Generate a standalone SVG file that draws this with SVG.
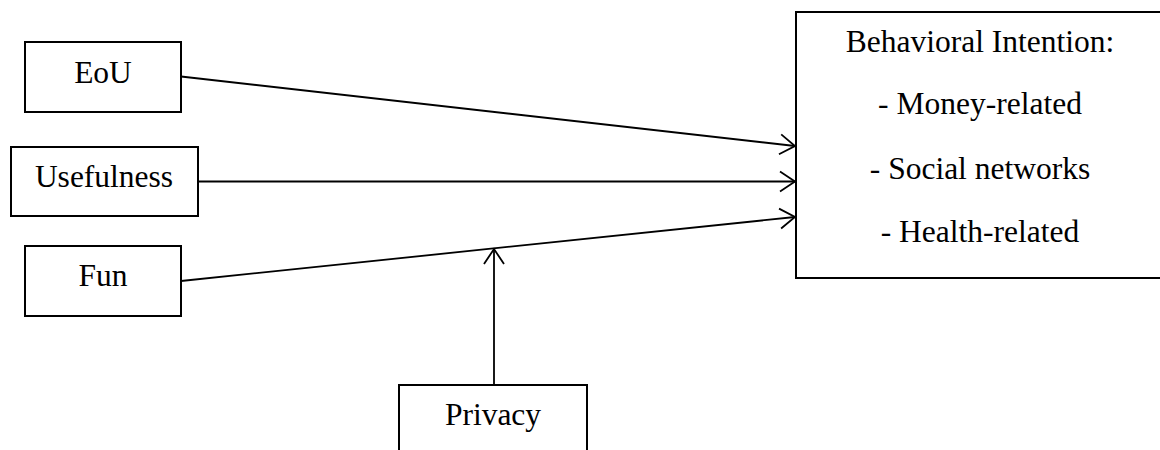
<svg xmlns="http://www.w3.org/2000/svg" width="1160" height="450" viewBox="0 0 1160 450">
<style>
.box{fill:#fff;stroke:#000;stroke-width:2}
.t{font-family:"Liberation Serif","Times New Roman",serif;font-size:31.5px;fill:#000;text-anchor:middle}
.c{stroke:#000;stroke-width:1.8;fill:none}
</style>
<defs>
<marker id="ah" markerUnits="userSpaceOnUse" viewBox="-17 -12 20 24" markerWidth="20" markerHeight="24" refX="0" refY="0" orient="auto">
<path d="M-15,-10 L0,0 L-15,10" fill="none" stroke="#000" stroke-width="1.8"/>
</marker>
</defs>
<g id="connectors">
<line class="c" x1="181" y1="76.5" x2="795" y2="146" marker-end="url(#ah)"/>
<line class="c" x1="198" y1="181.5" x2="795" y2="181.5" marker-end="url(#ah)"/>
<line class="c" x1="181" y1="281" x2="795" y2="217" marker-end="url(#ah)"/>
<line class="c" x1="494" y1="385" x2="494" y2="249" marker-end="url(#ah)"/>
</g>
<g id="eou">
<rect class="box" x="25" y="42" width="156" height="70"/>
<text class="t" x="103" y="83">EoU</text>
</g>
<g id="usefulness">
<rect class="box" x="11" y="147" width="187" height="69"/>
<text class="t" x="104" y="187">Usefulness</text>
</g>
<g id="fun">
<rect class="box" x="25" y="246" width="156" height="70"/>
<text class="t" x="103" y="286">Fun</text>
</g>
<g id="intention">
<rect class="box" x="796" y="12" width="368" height="266"/>
<text class="t" x="980" y="52">Behavioral Intention:</text>
<text class="t" x="980" y="114">- Money-related</text>
<text class="t" x="980" y="179">- Social networks</text>
<text class="t" x="980" y="242">- Health-related</text>
</g>
<g id="privacy">
<rect class="box" x="399" y="385" width="188" height="80"/>
<text class="t" x="493" y="425">Privacy</text>
</g>
</svg>
